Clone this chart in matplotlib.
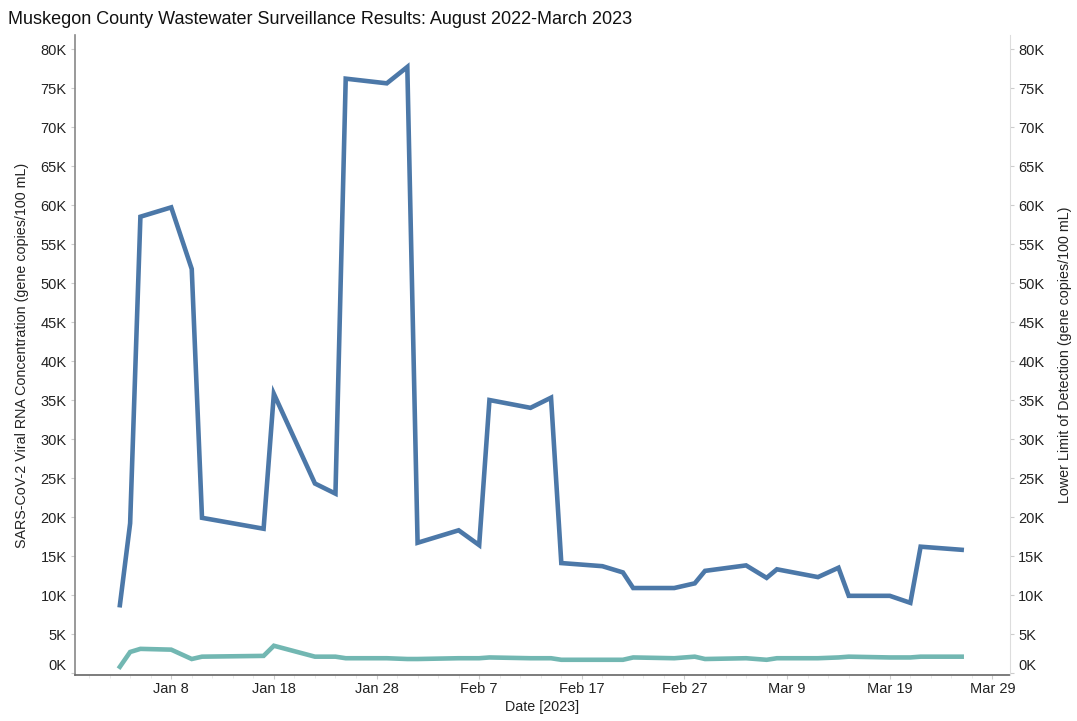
import numpy as np
import pandas as pd
import matplotlib
matplotlib.use('Agg')
from matplotlib import pyplot as plt
import matplotlib.dates as mdates
from matplotlib.ticker import FuncFormatter

# Данные с графика
dates = ['2023-01-03', '2023-01-04', '2023-01-05', '2023-01-08', '2023-01-10', '2023-01-11',
         '2023-01-17', '2023-01-18', '2023-01-22', '2023-01-24', '2023-01-25', '2023-01-29',
         '2023-01-31', '2023-02-01', '2023-02-05', '2023-02-07', '2023-02-08', '2023-02-12',
         '2023-02-14', '2023-02-15', '2023-02-19', '2023-02-21', '2023-02-22', '2023-02-26',
         '2023-02-28', '2023-03-01', '2023-03-05', '2023-03-07', '2023-03-08', '2023-03-12',
         '2023-03-14', '2023-03-15', '2023-03-19', '2023-03-21', '2023-03-22', '2023-03-26']
concentration = [8700, 19200, 58500, 59700, 51800, 19900,
                 18500, 35800, 24300, 23000, 76200, 75600,
                 77700, 16700, 18300, 16400, 35000, 34000,
                 35300, 14100, 13700, 12900, 10900, 10900,
                 11500, 13100, 13800, 12200, 13300, 12300,
                 13500, 9900, 9900, 9000, 16200, 15800]
detection_limit = [800, 2700, 3100, 3000, 1800, 2100,
                   2200, 3500, 2100, 2100, 1900, 1900,
                   1800, 1800, 1900, 1900, 2000, 1900,
                   1900, 1700, 1700, 1700, 2000, 1900,
                   2100, 1800, 1900, 1700, 1900, 1900,
                   2000, 2100, 2000, 2000, 2100, 2100]
y_ticks = list(range(0, 80001, 5000))

dates = pd.to_datetime(dates)

plt.rcParams['font.family'] = ['Liberation Sans', 'DejaVu Sans']

fig = plt.figure(dpi=100, figsize=(10.77, 7.21))
ax = fig.add_axes([0.0696, 0.0638, 0.8682, 0.8877])
ax2 = ax.twinx()

ax.plot(dates, concentration, c='#4c78a8', lw=3.3, solid_joinstyle='miter', zorder=3)
ax2.plot(dates, detection_limit, c='#72b7b2', lw=3.3, solid_joinstyle='miter', zorder=3)

ymin, ymax = -250, 81800
ax.set_ylim(ymin, ymax)
ax2.set_ylim(ymin, ymax)
ax.set_xlim(pd.Timestamp('2022-12-29 15:00'), pd.Timestamp('2023-03-30 17:00'))

k_fmt = FuncFormatter(lambda v, p: '%dK' % round(v / 1000))
for a in (ax, ax2):
    a.set_yticks(y_ticks)
    a.yaxis.set_major_formatter(k_fmt)
    a.tick_params(axis='y', labelsize=10.5, length=3, color='#cccccc', labelcolor='#222222', pad=3)
    a.yaxis.get_major_ticks()[0].label1.set_va('bottom')
    a.yaxis.get_major_ticks()[0].label2.set_va('bottom')

ticks = pd.date_range('2023-01-08', '2023-03-29', freq='10D')
ax.set_xticks(ticks)
ax.set_xticklabels([d.strftime('%b ') + str(d.day) for d in ticks])
ax.xaxis.set_minor_locator(mdates.DayLocator(interval=2))
ax.tick_params(axis='x', which='major', labelsize=10.5, length=3, color='#cccccc', labelcolor='#222222', pad=2)
ax.tick_params(axis='x', which='minor', length=2, color='#e6e6e6')

# Оформление осей
for a in (ax, ax2):
    a.spines['top'].set_visible(False)
ax.spines['right'].set_visible(False)
ax2.spines['left'].set_visible(False)
ax2.spines['bottom'].set_visible(False)
ax.spines['left'].set_color('#888888')
ax.spines['bottom'].set_color('#666666')
ax2.spines['right'].set_color('#dddddd')
ax.spines['left'].set_linewidth(1.2)
ax.spines['bottom'].set_linewidth(1.2)

ax.set_xlabel('Date [2023]', fontsize=10.3, color='#222222', labelpad=3)
ax.set_ylabel('SARS-CoV-2 Viral RNA Concentration (gene copies/100 mL)', fontsize=10.3, color='#222222', labelpad=8)
ax2.set_ylabel('Lower Limit of Detection (gene copies/100 mL)', fontsize=10.3, color='#222222', labelpad=10)

fig.text(0.0074, 0.985, 'Muskegon County Wastewater Surveillance Results: August 2022-March 2023',
         fontsize=13, color='#111111', ha='left', va='top')

plt.savefig('out.png', dpi=100)
